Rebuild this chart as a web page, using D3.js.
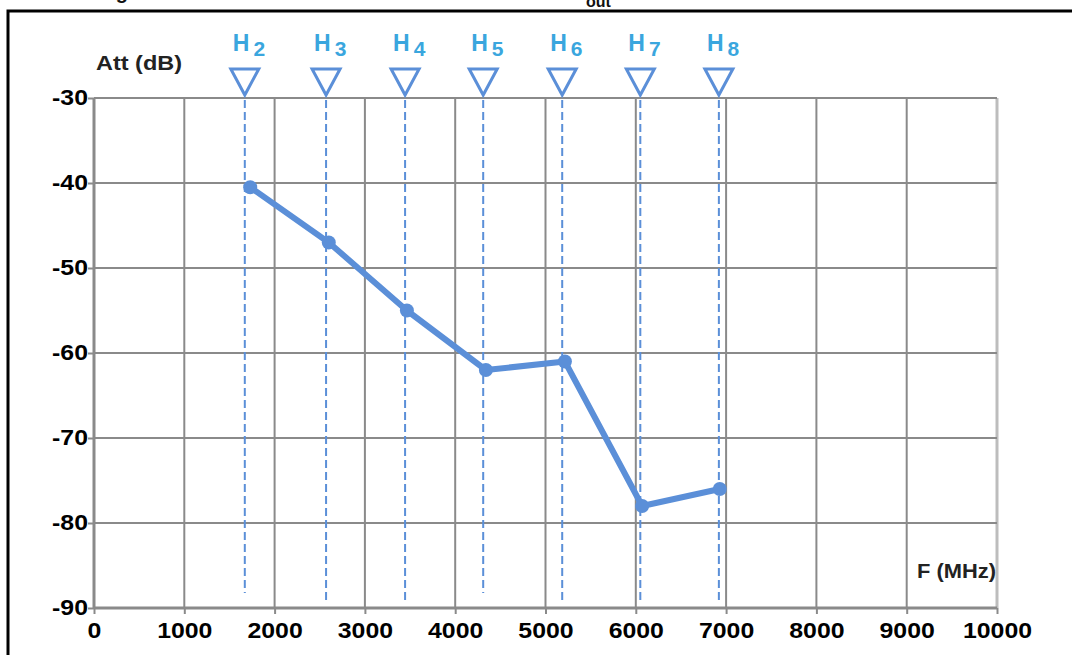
<!DOCTYPE html>
<html>
<head>
<meta charset="utf-8">
<script src="https://cdn.jsdelivr.net/npm/d3@7"></script>
<style>
  body { margin: 0; background: #fff; }
  svg { display: block; font-family: "Liberation Sans", Arial, sans-serif; }
</style>
</head>
<body>
<div id="chart"></div>
<script>
// harmonic data
var harmonics = ['2', '3', '4', '5', '6', '7', '8'];
var markerFreq = [1670, 2570, 3445, 4310, 5185, 6050, 6920];
var pointFreq = [1730, 2600, 3465, 4340, 5215, 6070, 6930];
var attValues = [-40.5, -47, -55, -62, -61, -78, -76];
var xTicks = [0, 1000, 2000, 3000, 4000, 5000, 6000, 7000, 8000, 9000, 10000];
var yTicks = [-30, -40, -50, -60, -70, -80, -90];

var width = 1072;
var height = 655;
var blue = '#5b8fd8';
var font = '"Liberation Sans", Arial, sans-serif';

var svg = d3.select('#chart')
  .append('svg')
  .attr('width', width)
  .attr('height', height);

var x = d3.scaleLinear().domain([0, 10000]).range([94, 997]);
var y = d3.scaleLinear().domain([-90, -30]).range([608, 98]);

// frame of the figure (top and left edges visible)
svg.append('path')
  .attr('d', 'M8,' + height + ' V11 H' + width)
  .attr('fill', 'none')
  .attr('stroke', '#000')
  .attr('stroke-width', 3);

// caption of the page above, mostly cut off by the top edge
var cap = svg.append('text')
  .attr('x', 98)
  .attr('y', -1)
  .attr('font-size', 20)
  .attr('font-weight', 'bold')
  .attr('fill', '#111');
cap.append('tspan').text('Figure 7. Harmonic measurements at P');
cap.append('tspan').attr('x', 586).attr('y', 7).attr('font-size', 16).text('out');

// grid
svg.append('g')
  .selectAll('line')
  .data(xTicks)
  .enter()
  .append('line')
  .attr('x1', d => x(d))
  .attr('x2', d => x(d))
  .attr('y1', y(-30))
  .attr('y2', y(-90))
  .attr('stroke', (d, i) => i == xTicks.length - 1 ? '#bdbdbd' : '#8a8a8a')
  .attr('stroke-width', d => d == 0 || d == 10000 ? 3 : 2);

svg.append('g')
  .selectAll('line')
  .data(yTicks)
  .enter()
  .append('line')
  .attr('x1', x(0))
  .attr('x2', x(10000))
  .attr('y1', d => y(d))
  .attr('y2', d => y(d))
  .attr('stroke', '#8a8a8a')
  .attr('stroke-width', d => d == -90 ? 3 : 2);

// axes with ticks
var xAxis = svg.append('g')
  .attr('transform', 'translate(0,' + y(-90) + ')')
  .call(d3.axisBottom(x).tickValues(xTicks).tickSize(6).tickPadding(8).tickFormat(d => String(d)));
var yAxis = svg.append('g')
  .attr('transform', 'translate(' + x(0) + ',0)')
  .call(d3.axisLeft(y).tickValues(yTicks).tickSize(6).tickPadding(0).tickFormat(d => String(d)));

[xAxis, yAxis].forEach(function(a) {
  a.select('.domain').remove();
  a.selectAll('.tick line').attr('stroke', '#8a8a8a').attr('stroke-width', 2);
  a.selectAll('.tick text')
    .attr('fill', '#000')
    .attr('font-size', 22)
    .attr('font-weight', 'bold')
    .attr('font-family', font)
    .each(function() {
      // the reference lettering is a little wider than Liberation Sans
      var w = this.getComputedTextLength();
      d3.select(this).attr('textLength', w * 1.13).attr('lengthAdjust', 'spacingAndGlyphs');
    });
});
yAxis.selectAll('.tick text').attr('dy', '0.28em');

// axis titles
svg.append('text')
  .attr('x', 96)
  .attr('y', 70)
  .attr('font-size', 20)
  .attr('font-weight', 'bold')
  .attr('fill', '#222')
  .attr('textLength', 86)
  .attr('lengthAdjust', 'spacingAndGlyphs')
  .text('Att (dB)');

svg.append('text')
  .attr('x', 917)
  .attr('y', 578)
  .attr('font-size', 20)
  .attr('font-weight', 'bold')
  .attr('fill', '#222')
  .attr('textLength', 79)
  .attr('lengthAdjust', 'spacingAndGlyphs')
  .text('F (MHz)');

// harmonic markers
var marks = svg.append('g')
  .selectAll('g')
  .data(harmonics)
  .enter()
  .append('g')
  .attr('transform', (d, i) => 'translate(' + x(markerFreq[i]) + ',0)');

marks.append('line')
  .attr('x1', 0)
  .attr('x2', 0)
  .attr('y1', y(-30) + 2)
  .attr('y2', (d, i) => [593, 602, 600, 593, 600, 601, 601][i])
  .attr('stroke', blue)
  .attr('stroke-width', 2)
  .attr('stroke-dasharray', '8,4');

marks.append('path')
  .attr('d', 'M-14,69 L14,69 L0,95 Z')
  .attr('fill', '#fff')
  .attr('stroke', blue)
  .attr('stroke-width', 3)
  .attr('stroke-linejoin', 'miter');

var lbl = marks.append('text')
  .attr('x', -12)
  .attr('y', 51)
  .attr('font-size', 23)
  .attr('font-weight', 'bold')
  .attr('fill', '#3aa6de');
lbl.append('tspan').text('H');
lbl.append('tspan').attr('dx', 4).attr('dy', 5).attr('font-size', 21).text(d => d);

// measurement line
var line = d3.line()
  .x((d, i) => x(pointFreq[i]))
  .y(d => y(d));

svg.append('path')
  .datum(attValues)
  .attr('d', line)
  .attr('fill', 'none')
  .attr('stroke', blue)
  .attr('stroke-width', 6)
  .attr('stroke-linejoin', 'round');

svg.append('g')
  .selectAll('circle')
  .data(attValues)
  .enter()
  .append('circle')
  .attr('cx', (d, i) => x(pointFreq[i]))
  .attr('cy', d => y(d))
  .attr('r', 7)
  .attr('fill', blue);
</script>
</body>
</html>
